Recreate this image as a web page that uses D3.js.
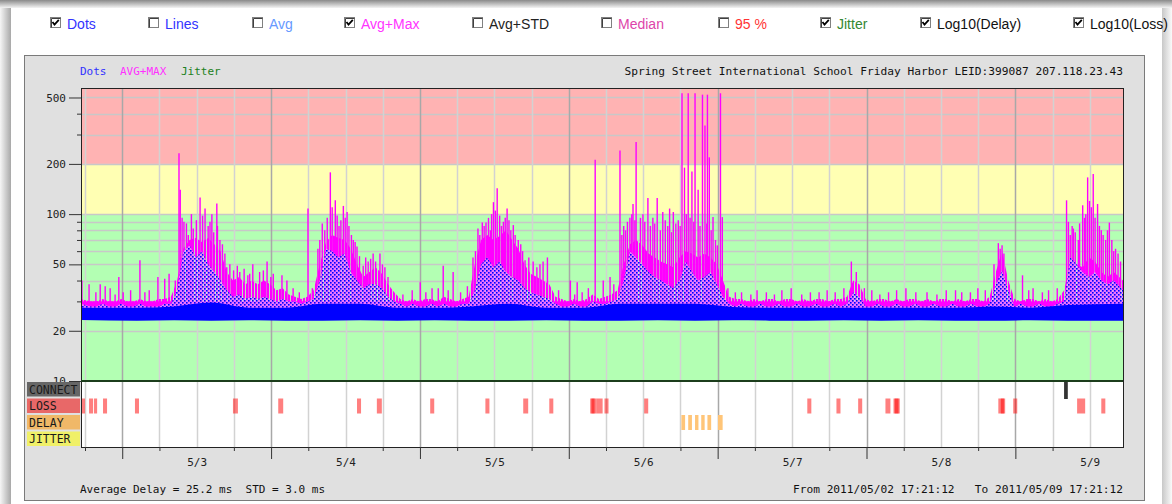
<!DOCTYPE html>
<html>
<head>
<meta charset="utf-8">
<script src="https://cdn.jsdelivr.net/npm/d3@7"></script>
<style>
  body { margin: 0; background: #fff; }
  svg text { font-family: "DejaVu Sans Mono", monospace; white-space: pre; }
</style>
</head>
<body>
<svg id="chart" width="1172" height="504"></svg>
<script>
// ---- data ----
const startTime = new Date(2011, 4, 2, 17, 21, 12);
const endTime = new Date(2011, 4, 9, 17, 21, 12);

const optionNames = ["Dots", "Lines", "Avg", "Avg+Max", "Avg+STD", "Median", "95 %", "Jitter", "Log10(Delay)", "Log10(Loss)"];
const optionChecked = [true, false, false, true, false, false, false, true, true, true];
const optionColors = ["#3333ff", "#3333ff", "#6699ff", "#ff33ff", "#222222", "#dd44aa", "#ff3333", "#338833", "#111111", "#111111"];

const yTickLabels = [10, 20, 50, 100, 200, 500];
const yMinorTicks = [30, 40, 60, 70, 80, 90, 300, 400];
const yGridValues = [20, 30, 40, 50, 60, 70, 80, 90, 100, 200, 300, 400, 500];
const zoneLimits = [10, 100, 200, 570];
const zoneColors = ["#b3ffb3", "#ffffb3", "#ffb3b3"];

// hourly max envelope (ms), one value per hour from the start
const maxEnvelope = [
  31,30,30,31,30,30,31,30,30,31,30,30,31,31,32,
  40,62,70,72,68,72,66,60,45,40,42,38,40,38,40,38,35,36,33,32,31,32,35,
  50,68,75,72,70,62,50,42,45,48,44,38,34,31,
  30,31,30,31,31,30,32,31,30,31,32,
  50,70,75,70,74,80,70,62,50,44,42,40,38,32,
  31,30,31,30,31,33,31,32,33,35,
  50,66,70,65,58,55,52,50,48,55,60,58,55,58,55,50,40,32,
  31,31,30,31,30,31,31,30,31,31,30,31,30,31,31,30,31,31,32,
  40,38,
  31,30,31,31,30,31,30,31,31,30,31,30,31,31,30,31,30,31,31,30,32,
  45,60,40,
  31,30,31,31,30,31,30,31,
  35,52,50,48,55,52,45,42,45,40
];
const solidMaxLevel = 30;   // typical max in quiet hours (ms)

// hourly top of the scattered dots (ms)
const dotTop = [
  29,28,28,29,28,28,29,28,28,29,28,28,28,29,29,
  35,60,65,55,60,50,45,40,35,32,33,31,32,31,32,31,30,31,30,30,29,30,31,
  40,62,60,55,58,45,40,36,38,38,36,32,30,29,
  28,29,28,28,29,28,29,28,28,29,29,
  35,50,55,48,52,45,42,40,36,34,33,32,31,29,
  28,28,29,28,28,30,29,29,30,31,
  40,60,55,50,45,42,40,38,36,40,52,45,40,42,45,38,32,29,
  28,29,28,28,29,28,28,29,28,28,29,28,28,29,28,28,29,28,29,
  34,32,
  28,28,29,28,28,29,28,28,29,28,28,29,28,28,29,28,28,29,28,28,29,
  38,46,35,
  28,29,28,28,29,28,28,29,
  30,55,50,45,42,45,40,38,40,35
];

// dense dot band, one value per 6 hours (ms)
const bandLow = [23.2,23.0,23.1,23.0,23.1,23.0,23.0,23.1,23.0,23.1,23.0,23.0,23.1,23.0,
                 23.0,23.1,23.0,23.1,23.0,23.0,23.1,23.0,23.1,23.0,23.0,23.1,23.0,23.0];
const bandHigh = [27.5,27.5,28.0,29.5,27.5,27.5,29.0,29.0,27.5,27.5,28.0,29.0,27.5,27.5,
                  29.0,29.0,29.0,27.8,27.5,27.5,27.5,27.5,27.5,27.5,28.0,27.5,28.5,29.0];

// individual max spikes: [hour from start, value in ms]
const spikes = [
  [0.15,40],[1.3,38],[2.4,34],[3.1,38],[3.9,37],[4.7,36],[5.5,33],[6.1,42],[6.8,34],[8.0,35],[9.5,53],[10.3,34],
  [11.0,35],[12.4,42],[13.5,41],[14.2,44],[15.2,40],[15.8,232],[16.0,140],[16.3,95],[16.6,90],[17.0,88],[17.3,75],
  [17.8,100],[18.1,82],[18.6,92],[19.2,126],[19.6,98],[20.0,108],[20.5,85],[20.8,90],[21.1,100],[21.4,78],[21.9,116],
  [22.0,85],[22.4,70],[22.8,66],[23.2,58],[23.5,48],[24.0,50],[24.6,46],[25.2,49],[25.6,45],[26.3,47],[26.9,43],
  [27.2,44],[27.7,50],[28.8,45],[29.4,46],[30.0,52],[30.6,42],[31.0,44],[32.4,43],[33.2,40],[34.2,36],[35.2,34],
  [36.6,108],[37.3,36],[38.2,62],[38.5,70],[38.9,88],[39.3,80],[39.7,95],[40.2,178],[40.5,110],[41.0,121],[41.3,98],
  [41.6,85],[41.9,92],[42.3,112],[42.6,95],[42.9,103],[43.2,85],[43.6,75],[43.9,70],[44.2,68],[44.5,64],[44.9,56],
  [45.5,49],[45.9,55],[46.3,52],[46.7,54],[47.1,58],[47.5,52],[48.2,58],[48.6,50],[49.0,48],[49.5,42],[50.5,33],
  [51.9,33],[53.4,35],[54.7,39],[55.6,34],[56.6,36],[57.6,36],[58.4,49],[59.2,35],[60.0,45],[61.2,34],[62.3,37],
  [63.2,55],[63.6,60],[64.0,82],[64.3,75],[64.7,89],[65.0,85],[65.3,89],[65.7,95],[66.0,80],[66.2,100],[66.5,118],
  [66.8,105],[67.1,143],[67.5,98],[67.8,85],[68.1,90],[68.4,95],[68.7,108],[69.0,92],[69.3,80],[69.7,86],[70.0,75],
  [70.5,70],[70.9,66],[71.2,60],[71.6,53],[72.2,55],[72.9,52],[73.5,48],[74.0,50],[74.5,52],[75.2,55],[77.0,35],
  [78.9,40],[79.6,33],[80.0,39],[80.8,34],[81.8,36],[82.9,212],[84.2,40],[85.3,42],[85.9,38],[86.9,241],[87.2,75],
  [87.5,85],[87.8,80],[88.1,90],[88.5,95],[88.8,100],[89.0,115],[89.3,92],[89.5,271],[90.2,95],[90.6,100],[90.9,90],
  [91.4,125],[91.8,85],[92.2,95],[92.5,88],[92.9,125],[93.4,80],[93.8,103],[94.2,92],[94.6,85],[94.9,108],[95.2,78],
  [95.5,103],[95.9,88],[96.3,92],[96.6,85],[96.9,530],[97.3,190],[97.6,100],[97.9,530],[98.2,95],[98.5,180],[98.8,90],
  [99.0,530],[99.5,140],[99.8,85],[100.2,520],[100.6,340],[100.9,88],[101.0,520],[101.3,219],[101.6,80],[101.9,96],
  [102.3,70],[102.6,65],[103.1,530],[103.4,96],[104.3,36],[105.5,34],[106.5,34],[108.0,33],[109.0,35],[110.5,34],
  [111.8,33],[113.0,35],[114.5,36],[116.2,33],[117.6,34],[119.0,34],[120.3,35],[121.6,34],[123.0,36],[124.2,52],
  [125.0,45],[126.3,36],[127.5,35],[128.8,33],[130.2,34],[131.5,35],[133.0,36],[134.6,34],[136.4,34],[138.0,33],
  [139.5,35],[141.0,35],[142.0,34],[143.4,34],[144.6,36],[145.8,35],[147.2,50],[147.9,67],[148.2,62],[148.5,65],
  [148.8,58],[150.0,34],[151.8,43],[152.8,35],[153.5,36],[155.0,34],[156.0,35],[157.4,36],[158.9,121],[159.2,90],
  [159.5,75],[159.8,85],[160.0,82],[160.3,78],[160.8,70],[161.0,88],[161.5,113],[161.8,95],[162.0,100],[162.3,166],
  [162.6,120],[162.9,110],[163.2,174],[163.5,95],[163.9,115],[164.2,85],[164.5,80],[164.8,75],[165.2,70],[165.5,80],
  [165.8,89],[166.2,70],[166.5,60],[166.8,62],[167.2,58],[167.6,52]
];

// event strip: start hour, duration in hours
const lossStart = [0.0,1.3,2.1,3.55,8.7,24.5,31.8,44.5,47.7,56.3,65.2,71.3,75.5,82.1,82.3,83.1,84.4,90.8,
                   117.1,121.8,125.3,129.7,131.0,131.2,147.9,148.3,150.3,160.6,164.5];
const lossDur = [0.65,0.65,0.5,0.65,0.65,0.8,0.8,0.65,0.8,0.65,0.65,0.8,0.65,1.0,0.5,1.0,0.65,0.65,
                 0.65,0.65,0.65,0.8,1.0,0.6,1.1,0.5,0.65,1.3,0.65];
const delayStart = [96.8, 97.9, 99.0, 100.0, 101.0, 102.7];
const delayDur = [0.6, 0.6, 0.55, 0.55, 0.6, 0.75];
const connectStart = [158.5];
const connectDur = [0.6];

const rowNames = ["CONNECT", "LOSS", "DELAY", "JITTER"];
const rowColors = ["#666666", "#e86868", "#f0b868", "#f0f068"];

const dayLabels = ["5/3", "5/4", "5/5", "5/6", "5/7", "5/8", "5/9"];

// ---- layout ----
const svg = d3.select("#chart");
const plot = { left: 81, right: 1123, top: 88, delayBottom: 381, bottom: 447 };

const x = d3.scaleTime().domain([startTime, endTime]).range([plot.left, plot.right]);
const y = d3.scaleLog().domain([10, 570]).range([plot.delayBottom, plot.top]);
const t = h => new Date(+startTime + h * 36e5);

const defs = svg.append("defs");

const gTop = defs.append("linearGradient").attr("id", "shTop").attr("x1", 0).attr("y1", 0).attr("x2", 0).attr("y2", 1);
gTop.append("stop").attr("offset", 0).attr("stop-color", "#8a8a8a");
gTop.append("stop").attr("offset", 1).attr("stop-color", "#f4f4f4");
const gLeft = defs.append("linearGradient").attr("id", "shLeft").attr("x1", 0).attr("y1", 0).attr("x2", 1).attr("y2", 0);
gLeft.append("stop").attr("offset", 0).attr("stop-color", "#f6f6f6");
gLeft.append("stop").attr("offset", 1).attr("stop-color", "#a8a8a8");
const gRight = defs.append("linearGradient").attr("id", "shRight").attr("x1", 0).attr("y1", 0).attr("x2", 1).attr("y2", 0);
gRight.append("stop").attr("offset", 0).attr("stop-color", "#c8c8c8");
gRight.append("stop").attr("offset", 1).attr("stop-color", "#fafafa");

// scattered dots: blue points with a pale halo between them
const speckle = defs.append("pattern").attr("id", "speckle")
  .attr("patternUnits", "userSpaceOnUse").attr("width", 4).attr("height", 4);
speckle.append("rect").attr("width", 4).attr("height", 4).attr("fill", "#d8ffff").attr("fill-opacity", 0.45);
speckle.append("rect").attr("x", 0).attr("y", 0).attr("width", 1.6).attr("height", 1.6).attr("fill", "#0000ff");
speckle.append("rect").attr("x", 2).attr("y", 2).attr("width", 1.6).attr("height", 1.6).attr("fill", "#0000ff");

const stripes = defs.append("pattern").attr("id", "stripes")
  .attr("patternUnits", "userSpaceOnUse").attr("width", 3).attr("height", 6);
stripes.append("rect").attr("x", 0).attr("y", 0).attr("width", 2.1).attr("height", 6).attr("fill", "#ff00ff");

defs.append("clipPath").attr("id", "plotClip").append("rect")
  .attr("x", plot.left).attr("y", plot.top)
  .attr("width", plot.right - plot.left).attr("height", plot.delayBottom - plot.top);

// window frame shadows
svg.append("rect").attr("x", 0).attr("y", 0).attr("width", 1172).attr("height", 8).attr("fill", "url(#shTop)");
svg.append("rect").attr("x", 0).attr("y", 8).attr("width", 11).attr("height", 496).attr("fill", "url(#shLeft)");
svg.append("rect").attr("x", 1162).attr("y", 8).attr("width", 10).attr("height", 496).attr("fill", "url(#shRight)");

// option bar
const optX = [50, 148, 252, 344, 472, 601, 718, 820, 920, 1073];
optionNames.forEach((name, i) => {
  const g = svg.append("g").attr("transform", `translate(${optX[i]},17)`);
  g.append("rect").attr("x", 0.5).attr("y", 0.5).attr("width", 10).attr("height", 10)
    .attr("fill", "#fff").attr("stroke", "#808080");
  g.append("path").attr("d", "M1.5,1.5H10.5M1.5,1.5V10.5").attr("stroke", "#404040").attr("fill", "none");
  if (optionChecked[i]) {
    g.append("path").attr("d", "M2.5,5 L4.5,7.5 L8.8,2.8").attr("stroke", "#000")
      .attr("stroke-width", 1.8).attr("fill", "none");
  }
  g.append("text").attr("x", 17).attr("y", 11.5)
    .style("font-family", "'Liberation Sans', Arial, sans-serif").style("font-size", "14px")
    .attr("fill", optionColors[i]).text(name);
});

// grey panel
svg.append("rect").attr("x", 24.5).attr("y", 55.5).attr("width", 1120).attr("height", 445)
  .attr("fill", "#e0e0e0").attr("stroke", "#7a7a7a");

// legend + title
const legend = [["Dots", "#3030ff", 80], ["AVG+MAX", "#ff30ff", 120], ["Jitter", "#208020", 181]];
legend.forEach(([txt, col, lx]) => {
  svg.append("text").attr("x", lx).attr("y", 75).attr("font-size", 11).attr("fill", col).text(txt);
});
svg.append("text").attr("x", plot.right).attr("y", 75).attr("text-anchor", "end")
  .attr("font-size", 11.2).attr("fill", "#111")
  .text("Spring Street International School Friday Harbor LEID:399087 207.118.23.43");

// zones
for (let i = 0; i < zoneColors.length; i++) {
  svg.append("rect").attr("x", plot.left).attr("width", plot.right - plot.left)
    .attr("y", y(zoneLimits[i + 1])).attr("height", y(zoneLimits[i]) - y(zoneLimits[i + 1]))
    .attr("fill", zoneColors[i]);
}
svg.append("rect").attr("x", plot.left).attr("y", plot.delayBottom)
  .attr("width", plot.right - plot.left).attr("height", plot.bottom - plot.delayBottom).attr("fill", "#fff");

// horizontal grid
svg.append("g").selectAll("line").data(yGridValues).join("line")
  .attr("x1", plot.left).attr("x2", plot.right)
  .attr("y1", d => Math.round(y(d)) + 0.5).attr("y2", d => Math.round(y(d)) + 0.5)
  .attr("stroke", "#c8c8c8").attr("stroke-width", 1.5);

// vertical grid every 6 hours
const sixHours = d3.timeHour.every(6).range(startTime, endTime);
svg.append("g").selectAll("line").data(sixHours).join("line")
  .attr("x1", d => Math.round(x(d)) + 0.5).attr("x2", d => Math.round(x(d)) + 0.5)
  .attr("y1", plot.top).attr("y2", plot.bottom)
  .attr("stroke", d => d.getHours() === 0 ? "#a8a8a8" : "#d2d2d2").attr("stroke-width", 1.5);

// data layer
const data = svg.append("g").attr("clip-path", "url(#plotClip)");
const nH = maxEnvelope.length;
const hx = (i, n, step) => i === 0 ? 0 : i === n - 1 ? n * step : (i + 0.5) * step;

// max envelope: dense vertical strokes
data.append("path")
  .datum(maxEnvelope)
  .attr("fill", "url(#stripes)")
  .attr("d", d3.area()
    .x((d, i) => x(t(hx(i, nH, 1))))
    .y0(y(25))
    .y1(d => y(d)));

// solid max band in quiet hours
data.append("rect")
  .attr("x", plot.left).attr("width", plot.right - plot.left)
  .attr("y", y(solidMaxLevel)).attr("height", y(25) - y(solidMaxLevel))
  .attr("fill", "#ff00ff");

data.append("g").selectAll("line").data(spikes).join("line")
  .attr("x1", d => x(t(d[0]))).attr("x2", d => x(t(d[0])))
  .attr("y1", y(28)).attr("y2", d => y(d[1]))
  .attr("stroke", "#ff00ff").attr("stroke-width", 1.4);

// scattered dots
data.append("path")
  .datum(dotTop)
  .attr("fill", "url(#speckle)")
  .attr("d", d3.area()
    .x((d, i) => x(t(hx(i, nH, 1))))
    .y0(y(26))
    .y1(d => y(d)));

// dense dot band
data.append("path")
  .datum(bandLow)
  .attr("fill", "#0000ff")
  .attr("d", d3.area()
    .curve(d3.curveMonotoneX)
    .x((d, i) => x(t(hx(i, bandLow.length, 6))))
    .y0(d => y(d))
    .y1((d, i) => y(bandHigh[i])));

// event strip
const rowTop = i => 382 + i * 16.5;
const strip = svg.append("g");
strip.selectAll(".loss").data(lossStart).join("rect").attr("class", "loss")
  .attr("x", d => x(t(d))).attr("width", (d, i) => x(t(d + lossDur[i])) - x(t(d)))
  .attr("y", rowTop(1)).attr("height", 15)
  .attr("fill", "#ff0000").attr("fill-opacity", 0.5);
strip.selectAll(".delay").data(delayStart).join("rect").attr("class", "delay")
  .attr("x", d => x(t(d))).attr("width", (d, i) => x(t(d + delayDur[i])) - x(t(d)))
  .attr("y", rowTop(2)).attr("height", 15)
  .attr("fill", "#ffc578");
strip.selectAll(".conn").data(connectStart).join("rect").attr("class", "conn")
  .attr("x", d => x(t(d))).attr("width", (d, i) => x(t(d + connectDur[i])) - x(t(d)))
  .attr("y", plot.delayBottom).attr("height", 18)
  .attr("fill", "#333");

// borders
svg.append("rect").attr("x", plot.left + 0.5).attr("y", plot.top + 0.5)
  .attr("width", plot.right - plot.left).attr("height", plot.bottom - plot.top)
  .attr("fill", "none").attr("stroke", "#222");
svg.append("line").attr("x1", plot.left).attr("x2", plot.right)
  .attr("y1", plot.delayBottom).attr("y2", plot.delayBottom)
  .attr("stroke", "#1c3d1c").attr("stroke-width", 2);

// y axis
const yAxis = svg.append("g").attr("transform", `translate(${plot.left},0)`)
  .call(d3.axisLeft(y).tickValues(yTickLabels).tickFormat(d3.format("d")).tickSize(12).tickPadding(3));
yAxis.attr("font-family", "DejaVu Sans Mono").attr("font-size", 11);
yAxis.select(".domain").remove();
yAxis.selectAll("line").attr("stroke", "#333");
yAxis.selectAll("text").attr("fill", "#222");
const yMinor = svg.append("g").attr("transform", `translate(${plot.left},0)`)
  .call(d3.axisLeft(y).tickValues(yMinorTicks).tickFormat("").tickSize(4));
yMinor.select(".domain").remove();
yMinor.selectAll("line").attr("stroke", "#333");

// row labels
rowNames.forEach((name, i) => {
  svg.append("rect").attr("x", 27).attr("y", rowTop(i)).attr("width", 53).attr("height", 14.5)
    .attr("fill", rowColors[i]);
  svg.append("text").attr("x", 29).attr("y", rowTop(i) + 11.5).attr("font-size", 11.5)
    .attr("fill", "#1a1a1a").text(name);
});

// x axis
const minorTimes = sixHours.filter(d => d.getHours() === 6 || d.getHours() === 18);
const midnights = sixHours.filter(d => d.getHours() === 0);
const noons = sixHours.filter(d => d.getHours() === 12);
const xMinor = svg.append("g").attr("transform", `translate(0,${plot.bottom})`)
  .call(d3.axisBottom(x).tickValues(minorTimes).tickFormat("").tickSize(4));
const xMajor = svg.append("g").attr("transform", `translate(0,${plot.bottom})`)
  .call(d3.axisBottom(x).tickValues(midnights).tickFormat("").tickSize(12));
const xLabels = svg.append("g").attr("transform", `translate(0,${plot.bottom})`)
  .call(d3.axisBottom(x).tickValues(noons).tickFormat((d, i) => dayLabels[i]).tickSize(0).tickPadding(11));
[xMinor, xMajor, xLabels].forEach(a => {
  a.select(".domain").remove();
  a.selectAll("line").attr("stroke", "#333");
  a.attr("font-family", "DejaVu Sans Mono").attr("font-size", 11);
  a.selectAll("text").attr("fill", "#222");
});

// footer
svg.append("text").attr("x", 80).attr("y", 493).attr("font-size", 11).attr("fill", "#111")
  .text("Average Delay = 25.2 ms  STD = 3.0 ms");
svg.append("text").attr("x", plot.right).attr("y", 493).attr("text-anchor", "end")
  .attr("font-size", 11.2).attr("fill", "#111")
  .text("From 2011/05/02 17:21:12   To 2011/05/09 17:21:12");
</script>
</body>
</html>
